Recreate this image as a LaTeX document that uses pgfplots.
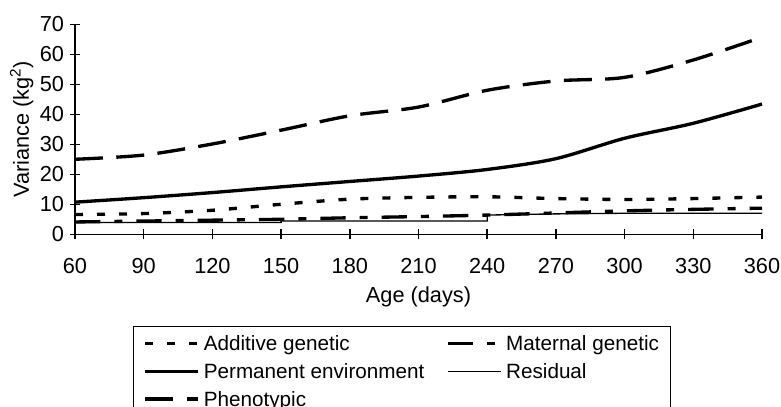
\documentclass[border=0pt]{standalone}
\usepackage{pgfplots}
\pgfplotsset{compat=1.18}
\usepackage{fontspec}
\setmainfont{Liberation Sans}

\newcommand{\chartfont}{\fontsize{15.5}{18}\selectfont}
\newcommand{\tickfont}{\fontsize{16.3}{19}\selectfont}

\begin{document}
\begin{tikzpicture}
% page frame around the axis rectangle (lower left corner at the origin)
\useasboundingbox (-56.25pt,-129.5pt) rectangle (529.5pt,175.7pt);
\clip (-56.25pt,-129.5pt) rectangle (529.5pt,175.7pt);
\begin{axis}[
  at={(0pt,0pt)}, anchor=south west,
  scale only axis,
  width=515.25pt, height=157.5pt,
  xmin=60, xmax=360, ymin=0, ymax=70,
  xtick={60,90,...,360},
  ytick={0,10,...,70},
  axis x line=bottom, axis y line=left,
  axis line style={-, line width=1.1pt},
  tick style={black, line width=1.1pt},
  tick align=center,
  major tick length=7.5pt,
  clip=false,
  font=\chartfont,
  /pgf/number format/assume math mode=true,
  ticklabel style={font=\tickfont},
  xticklabel style={yshift=-11pt},
  yticklabel style={xshift=-1pt},
  xlabel={Age (days)},
  ylabel={Variance (kg\textsuperscript{2})},
  label style={font=\tickfont},
  xlabel style={at={(axis description cs:0.5,0)}, anchor=center, yshift=-47.2pt},
  ylabel style={at={(axis description cs:-0.0776,0.5)}, anchor=center},
  legend columns=2,
  legend cell align=left,
  legend image code/.code={\draw[#1] (0pt,0pt) -- (39.75pt,0pt);},
  legend style={
    at={(axis description cs:0.0844,-0.435)}, anchor=north west,
    draw=black, line width=0.8pt,
    inner xsep=7.5pt, inner ysep=6pt,
    font=\chartfont,
    nodes={inner sep=0pt, text height=12.5pt, text depth=2pt},
    row sep=6.2pt,
    /tikz/every odd column/.append style={column sep=3pt},
  },
]
% additive genetic
\addplot[black, line width=2.5pt, dash pattern=on 6pt off 10.5pt, smooth] coordinates {
  (60,6.6) (90,6.9) (120,8.0) (150,10.0) (180,11.7) (210,12.3)
  (240,12.5) (270,11.9) (300,11.6) (330,11.9) (360,12.4)
};
\addlegendentry{\makebox[181.5pt][l]{Additive genetic}}
% maternal genetic
\addplot[black, line width=2.5pt, dash pattern=on 19pt off 10.5pt on 6pt off 10.5pt, smooth] coordinates {
  (60,4.1) (90,4.4) (120,4.7) (150,5.0) (180,5.5) (210,5.9)
  (240,6.4) (270,7.1) (300,7.8) (330,8.3) (360,8.7)
};
\addlegendentry{\makebox[115.5pt][l]{Maternal genetic}}
% permanent environment
\addplot[black, line width=2.5pt, smooth] coordinates {
  (60,10.7) (90,12.2) (120,13.9) (150,15.8) (180,17.6) (210,19.4)
  (240,21.6) (270,25.2) (300,32.0) (330,37.0) (360,43.4)
};
\addlegendentry{\makebox[181.5pt][l]{Permanent environment}}
% residual
\addplot[black, line width=1pt] coordinates {
  (60,3.9) (150,3.9) (150,4.4) (240,4.4) (240,6.4) (270,6.8)
  (300,7.0) (330,7.0) (360,7.0)
};
\addlegendentry{\makebox[115.5pt][l]{Residual}}
% phenotypic
\addplot[black, line width=2.5pt, dash pattern=on 21pt off 10pt, smooth] coordinates {
  (60,25.0) (90,26.4) (120,30.1) (150,34.7) (180,39.5) (210,42.4)
  (240,48.0) (270,51.1) (300,52.3) (330,58.1) (360,65.7)
};
\addlegendentry{\makebox[181.5pt][l]{Phenotypic}}
\end{axis}
\end{tikzpicture}
\end{document}
